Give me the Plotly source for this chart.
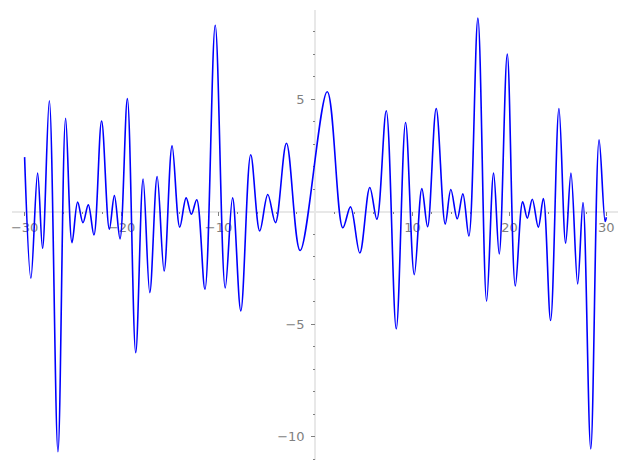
import plotly.graph_objects as go

# Curve: local extrema (x, y) in order
x_vals = [-30.0, -29.35, -28.66, -28.15, -27.45, -26.56, -25.77, -25.11, -24.53, -23.98,
          -23.43, -22.85, -22.06, -21.26, -20.74, -20.16, -19.4, -18.54, -17.78, -17.09,
          -16.33, -15.61, -14.79, -14.0, -13.34, -12.8, -12.25, -11.4, -10.34, -9.31,
          -8.55, -7.7, -6.68, -5.75, -4.92, -4.13, -2.99, -1.58, 1.21, 2.82,
          3.61, 4.57, 5.6, 6.33, 7.3, 8.33, 9.29, 10.19, 10.97, 11.56,
          12.45, 13.38, 13.96, 14.62, 15.2, 15.82, 16.75, 17.65, 18.37, 18.95,
          19.78, 20.61, 21.37, 21.85, 22.36, 22.98, 23.5, 24.25, 25.11, 25.8,
          26.35, 27.04, 27.59, 28.39, 29.25, 29.87, 30.0]
y_vals = [2.42, -2.96, 1.71, -1.63, 4.93, -10.67, 4.15, -1.38, 0.42, -0.49,
          0.30, -1.04, 4.03, -0.78, 0.71, -1.21, 5.02, -6.27, 1.45, -3.6,
          1.56, -2.64, 2.92, -0.69, 0.61, -0.12, 0.53, -3.45, 8.28, -3.39,
          0.61, -4.41, 2.53, -0.86, 0.76, -0.49, 3.04, -1.73, 5.33, -0.72,
          0.21, -1.84, 1.07, -0.34, 4.48, -5.21, 3.96, -2.8, 1.02, -0.67,
          4.58, -0.55, 0.98, -0.32, 0.79, -1.08, 8.6, -3.98, 1.71, -1.88,
          7.0, -3.3, 0.44, -0.29, 0.55, -0.69, 0.58, -4.84, 4.58, -1.4,
          1.71, -3.21, 0.4, -10.55, 3.19, -0.44, -0.25]

x_ticks = [-30, -20, -10, 10, 20, 30]
y_ticks = [-10, -5, 5]
x_minor = [-30, -28, -26, -24, -22, -20, -18, -16, -14, -12, -10, -8, -6, -4, -2,
           2, 4, 6, 8, 10, 12, 14, 16, 18, 20, 22, 24, 26, 28, 30]
y_minor = [-11, -10, -9, -8, -7, -6, -5, -4, -3, -2, -1, 1, 2, 3, 4, 5, 6, 7, 8]

x_range = [-31.3, 31.2]
y_range = [-11.04, 8.96]

fig = go.Figure()
fig.add_trace(go.Scatter(x=x_vals, y=y_vals, mode="lines",
                         line=dict(color="#0000ff", width=1.6, shape="spline", smoothing=1.0),
                         showlegend=False, hoverinfo="skip"))

pos_x_axis = (0 - y_range[0]) / (y_range[1] - y_range[0])
pos_y_axis = (0 - x_range[0]) / (x_range[1] - x_range[0])

tick_font = dict(family="DejaVu Sans", size=13, color="#808080")

# page body adds an 8px offset, so the figure is made 8px smaller and shifted back
fig.update_layout(
    width=619, height=462,
    margin=dict(l=4, r=9, t=2, b=10, autoexpand=False),
    paper_bgcolor="white", plot_bgcolor="white",
    font=dict(family="DejaVu Sans"),
    xaxis=dict(range=x_range, anchor="free", position=pos_x_axis,
               showgrid=False, zeroline=False, automargin=False, layer="below traces",
               showline=True, linecolor="#e8e8e8", linewidth=1.6,
               tickvals=x_ticks, ticks="outside", ticklen=3.5, tickwidth=1,
               tickcolor="#808080", tickfont=tick_font, ticklabelstandoff=0,
               minor=dict(tickvals=x_minor, ticks="outside", ticklen=2, tickwidth=0.8,
                          tickcolor="#808080", showgrid=False)),
    yaxis=dict(range=y_range, anchor="free", position=pos_y_axis,
               showgrid=False, zeroline=False, automargin=False, layer="below traces",
               showline=True, linecolor="#e8e8e8", linewidth=1.6,
               tickvals=y_ticks, ticks="outside", ticklen=3.5, tickwidth=1,
               tickcolor="#808080", tickfont=tick_font, ticklabelstandoff=4,
               minor=dict(tickvals=y_minor, ticks="outside", ticklen=2, tickwidth=0.8,
                          tickcolor="#808080", showgrid=False)),
)

fig.write_html("out.html")
